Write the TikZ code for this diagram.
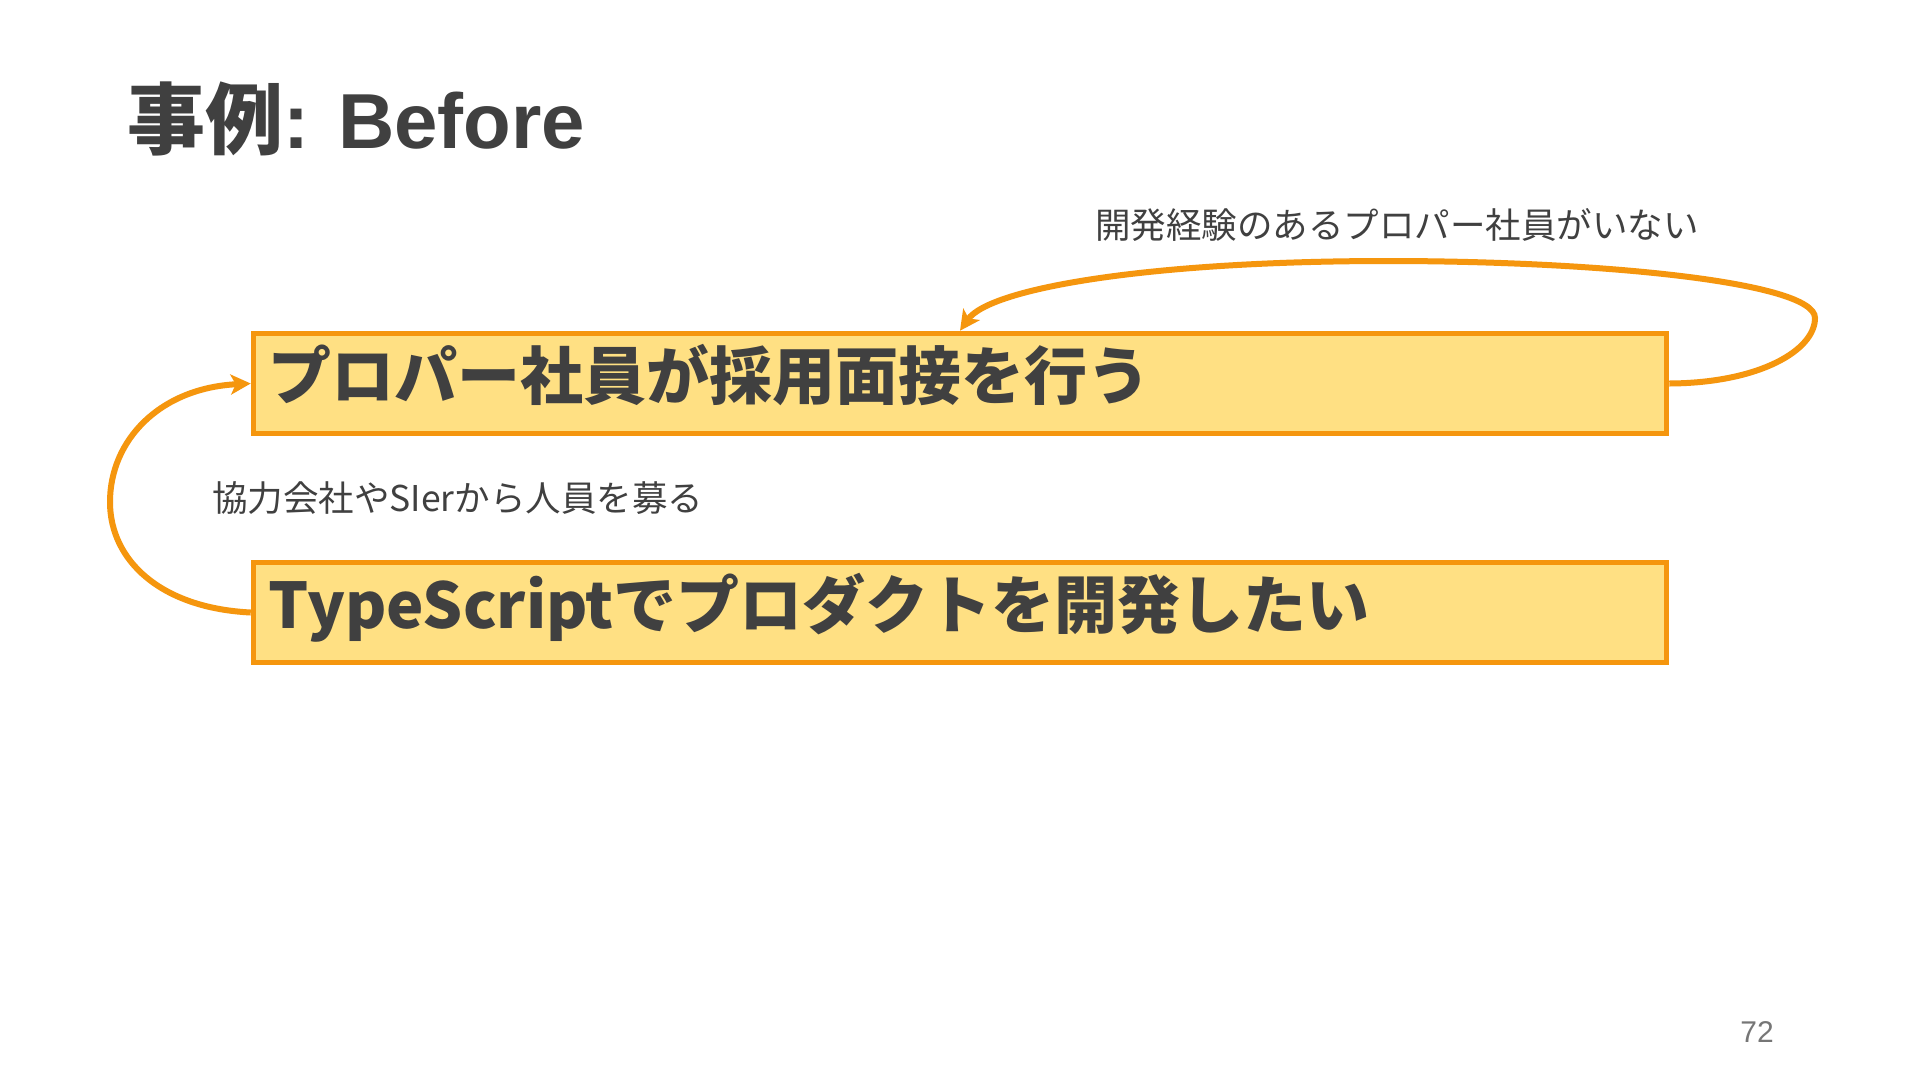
\documentclass[tikz,border=0pt]{standalone}
\usepackage{fontspec}
\setmainfont{Noto Sans CJK JP}
\newfontfamily\latinfont{Liberation Sans}
\usetikzlibrary{arrows.meta}
\definecolor{txt}{HTML}{404040}
\definecolor{orng}{HTML}{F5960E}
\definecolor{boxfill}{HTML}{FFE083}
\definecolor{pgnum}{HTML}{767676}
\tikzset{
  stepbox/.style={draw=orng, line width=5.5pt, fill=boxfill, minimum width=1413pt, minimum height=100pt,
    text width=1383pt, inner xsep=15pt, inner ysep=0pt, align=left, text=txt,
    text height=48pt, text depth=17pt,
    font=\fontsize{63}{70}\selectfont\bfseries},
  loop/.style={draw=orng, line width=6pt, -{Stealth[length=20pt,width=20pt,inset=5pt]}},
  lbl/.style={text=txt, font=\fontsize{35.5}{40}\selectfont, inner sep=0pt, anchor=west},
}
\begin{document}
\begin{tikzpicture}[x=1pt,y=-1pt]
\useasboundingbox[fill=white] (0,0) rectangle (1920,1080);
\node[anchor=base west, inner sep=0pt, text=txt, font=\fontsize{78}{90}\selectfont\bfseries] (title) at (127,148) {事例{\latinfont: Before}};
\node[stepbox] (b1) at (960,383.5) {プロパー社員が採用面接を行う};
\node[stepbox] (b2) at (960,612.5) {TypeScriptでプロダクトを開発したい};
\node[lbl] (l1) at (1095,225) {開発経験のあるプロパー社員がいない};
\node[lbl] (l2) at (212,498) {協力会社やSIerから人員を募る};
\node[text=pgnum, font=\latinfont\fontsize{30}{34}\selectfont, inner sep=0pt] (pg) at (1757,1032) {72};
\draw[loop] (b1.east) .. controls (1760,383) and (1815,350) .. (1815,318)
  .. controls (1815,282) and (1600,261) .. (1388,261)
  .. controls (1150,261) and (990,288) .. (b1.north);
\draw[loop] (b2.west) .. controls (160,608) and (110,560) .. (110,502)
  .. controls (110,440) and (160,388) .. (b1.west);
\end{tikzpicture}
\end{document}
